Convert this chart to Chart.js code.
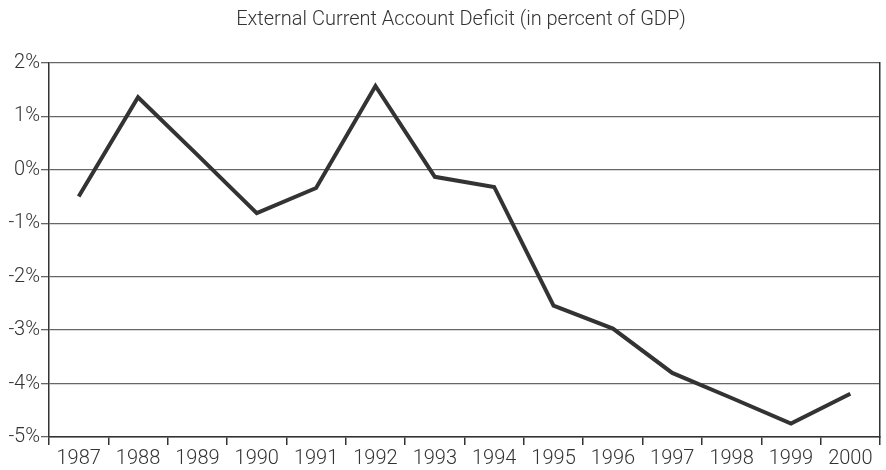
<!DOCTYPE html>
<html>
<head>
<meta charset="utf-8">
<script src="https://cdn.jsdelivr.net/npm/chart.js@4"></script>
<style>
  html, body { margin: 0; padding: 0; background: #fff; }
  #wrap { width: 886px; height: 470px; }
</style>
</head>
<body>
<div id="wrap"><canvas id="deficitChart" width="886" height="470"></canvas></div>
<script>
const years = ['1987', '1988', '1989', '1990', '1991', '1992', '1993', '1994', '1995', '1996', '1997', '1998', '1999', '2000'];
const deficit = [-0.5, 1.36, 0.28, -0.81, -0.34, 1.57, -0.13, -0.32, -2.54, -2.97, -3.8, -4.27, -4.75, -4.19];
const yTicks = [2, 1, 0, -1, -2, -3, -4, -5];
const titleText = 'External Current Account Deficit (in percent of GDP)';

const textColor = '#333';
const tickFont = { family: 'Roboto', size: 20, weight: '300' };

// title sits a bit right of centre in the original
const titlePlugin = {
    id: 'offsetTitle',
    afterDraw(chart) {
        const c = chart.ctx;
        c.save();
        c.font = '300 20px Roboto';
        c.fillStyle = textColor;
        c.textAlign = 'center';
        c.textBaseline = 'middle';
        c.fillText(titleText, 461, 20);
        c.restore();
    }
};

const ctx = document.getElementById('deficitChart').getContext('2d');

const chart = new Chart(ctx, {
    type: 'line',
    data: {
        labels: years,
        datasets: [{
            data: deficit,
            borderColor: '#333',
            borderWidth: 4,
            pointRadius: 0,
            tension: 0,
            fill: false
        }]
    },
    options: {
        responsive: false,
        animation: false,
        layout: { padding: { top: 63, left: 0, right: 6, bottom: 0 } },
        plugins: {
            legend: { display: false },
            tooltip: { enabled: false },
            title: { display: false }
        },
        scales: {
            x: {
                offset: true,
                grid: {
                    offset: true,
                    drawOnChartArea: false,
                    color: '#333',
                    lineWidth: 1.5,
                    tickLength: 8
                },
                border: { display: true, color: '#333', width: 1.5 },
                ticks: {
                    color: textColor,
                    font: tickFont,
                    padding: 2,
                    maxRotation: 0,
                    autoSkip: false
                },
                afterFit: axis => { axis.height = 33; }
            },
            y: {
                min: -5,
                max: 2,
                afterBuildTicks: axis => { axis.ticks = yTicks.map(v => ({ value: v })); },
                grid: {
                    color: '#666',
                    lineWidth: 1.3,
                    tickLength: 8
                },
                border: { display: true, color: '#333', width: 1.5 },
                ticks: {
                    color: textColor,
                    font: tickFont,
                    padding: 1,
                    callback: v => v + '%'
                },
                afterFit: axis => { axis.width = 49; }
            },
            y2: {
                position: 'right',
                min: -5,
                max: 2,
                grid: { display: false },
                ticks: { display: false },
                border: { display: true, color: '#333', width: 1.5 },
                afterFit: axis => { axis.width = 0; }
            }
        }
    },
    plugins: [titlePlugin]
});
</script>
</body>
</html>
